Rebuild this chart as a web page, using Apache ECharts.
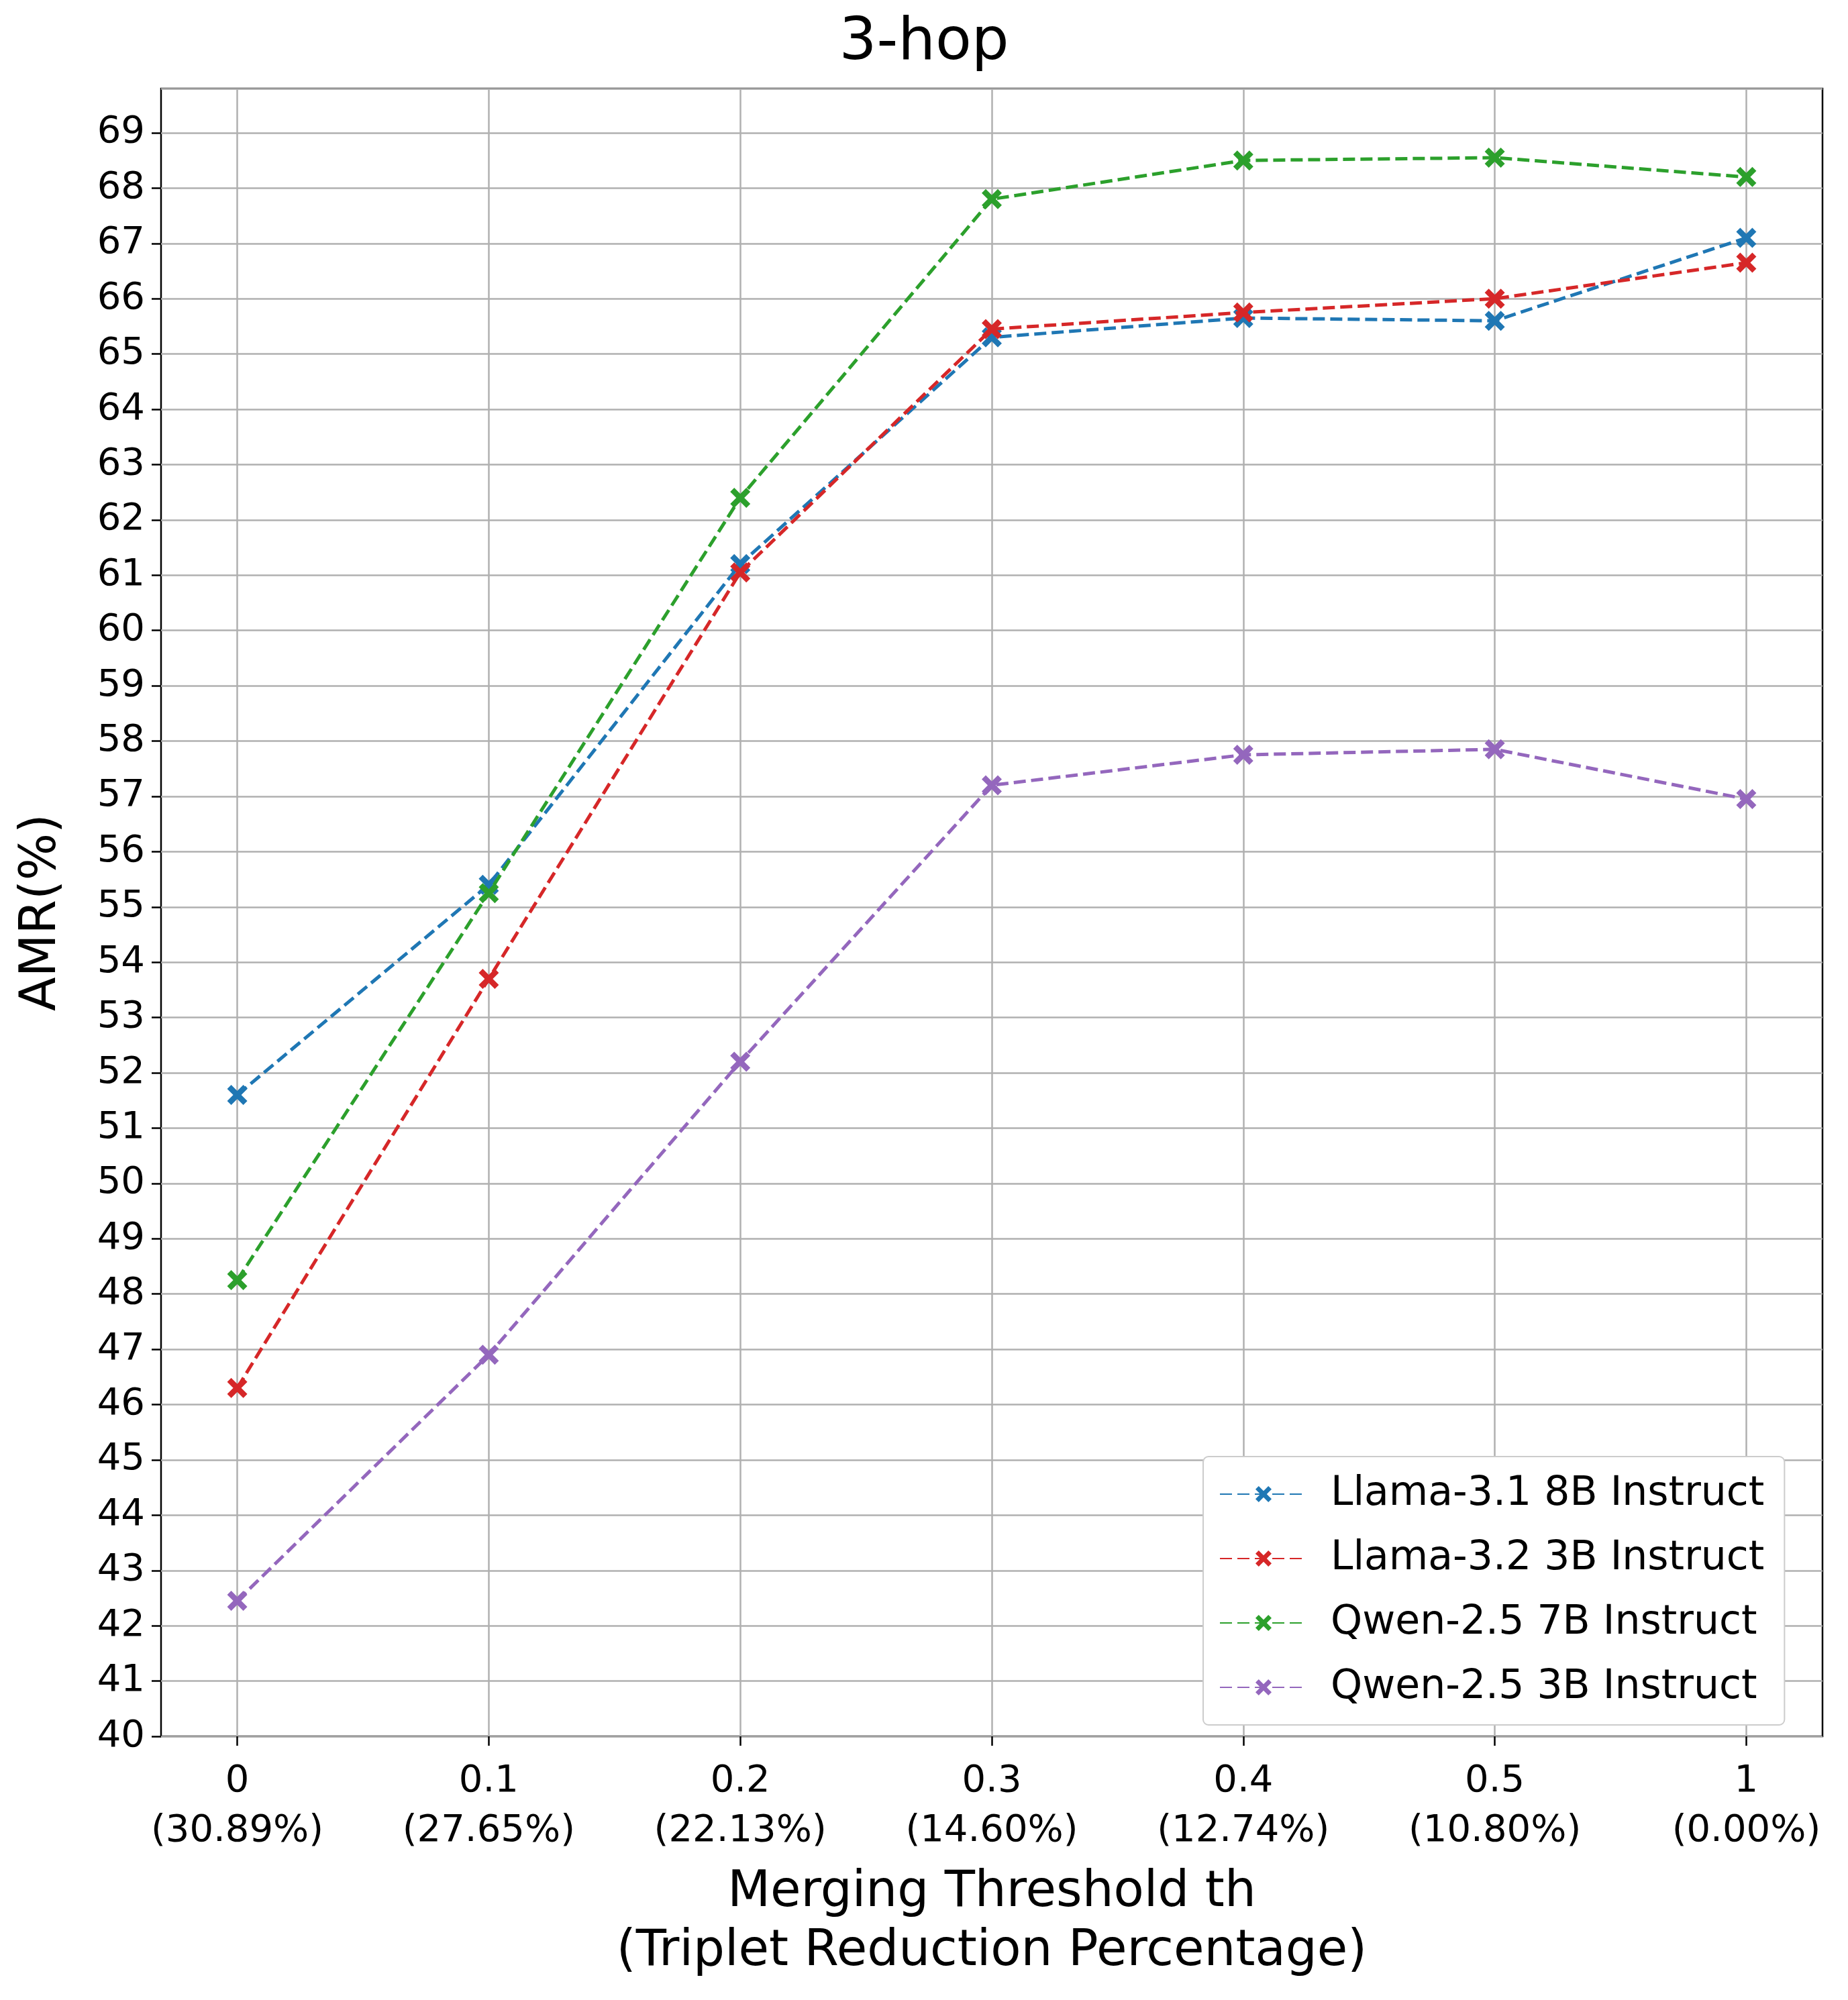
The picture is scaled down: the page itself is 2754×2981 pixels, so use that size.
<!DOCTYPE html>
<html><head><meta charset="utf-8">
<script src="https://cdn.jsdelivr.net/npm/echarts@6/dist/echarts.min.js"></script>
<style>html,body{margin:0;padding:0;background:#fff}#c{width:2754px;height:2981px}</style>
</head><body><div id="c"></div>
<script>
const thresholds = ['0','0.1','0.2','0.3','0.4','0.5','1'];
const reductions = ['(30.89%)','(27.65%)','(22.13%)','(14.60%)','(12.74%)','(10.80%)','(0.00%)'];
const llama31 = [51.6, 55.4, 61.2, 65.3, 65.65, 65.6, 67.1];
const llama32 = [46.3, 53.7, 61.05, 65.45, 65.75, 66.0, 66.65];
const qwen7 = [48.25, 55.25, 62.4, 67.8, 68.5, 68.55, 68.2];
const qwen3 = [42.45, 46.9, 52.2, 57.2, 57.75, 57.85, 56.95];
const names = ['Llama-3.1 8B Instruct','Llama-3.2 3B Instruct','Qwen-2.5 7B Instruct','Qwen-2.5 3B Instruct'];
const colors = ['#1f77b4','#d62728','#2ca02c','#9467bd'];
const xMark = 'path://M2,0 L5,3 L8,0 L10,2 L7,5 L10,8 L8,10 L5,7 L2,10 L0,8 L3,5 L0,2 Z';
const font = 'DejaVu Sans';
const idx = [0,1,2,3,4,5,6];
const chart = echarts.init(document.getElementById('c'));
chart.setOption({
  animation:false,
  textStyle:{fontFamily:font},
  title:{text:'3-hop',left:'center',top:16,textStyle:{fontFamily:font,fontSize:88,fontWeight:'normal',color:'#000'}},
  grid:{left:240,top:132,width:2476,height:2456,show:true,borderColor:'#000',borderWidth:2.5,backgroundColor:'transparent'},
  legend:{orient:'vertical',left:1793,top:2171,width:889,height:382,
    padding:[26,30,26,24],itemGap:36,itemWidth:130,itemHeight:30,
    backgroundColor:'#fff',borderColor:'#ccc',borderWidth:2,borderRadius:8,
    textStyle:{fontFamily:font,fontSize:60,color:'#000',padding:[0,0,0,30]},
    data:names},
  xAxis:{type:'value',min:-0.303,max:6.303,
    axisLine:{show:false,onZero:false},
    axisTick:{show:true,length:14,lineStyle:{color:'#000',width:2.5},customValues:idx},
    axisLabel:{customValues:idx,fontSize:56,color:'#000',margin:30,lineHeight:74,
      formatter:v=>{const i=Math.round(v);return thresholds[i]+'\n'+reductions[i];}},
    splitLine:{show:true,lineStyle:{color:'#b0b0b0',width:2.5}},
    name:'Merging Threshold th\n(Triplet Reduction Percentage)',nameLocation:'middle',nameGap:190,
    nameTextStyle:{fontSize:74,color:'#000',lineHeight:88}},
  yAxis:{type:'value',min:40,max:69.8,interval:1,
    axisLine:{show:false,onZero:false},
    axisTick:{show:true,length:14,lineStyle:{color:'#000',width:2.5}},
    axisLabel:{fontSize:56,color:'#000',margin:24,showMaxLabel:false,formatter:v=>Number.isInteger(v)?v:''},
    splitLine:{show:true,lineStyle:{color:'#b0b0b0',width:2.5}},
    name:'AMR(%)',nameLocation:'middle',nameGap:140,nameRotate:90,
    nameTextStyle:{fontSize:74,color:'#000'}},
  series:[llama31,llama32,qwen7,qwen3].map((d,i)=>({
    name:names[i],type:'line',data:d.map((v,j)=>[idx[j],v]),
    symbol:xMark,symbolSize:30,
    lineStyle:{color:colors[i],width:5,type:[18,8]},
    itemStyle:{color:colors[i]},z:3+i
  }))
});
</script></body></html>
